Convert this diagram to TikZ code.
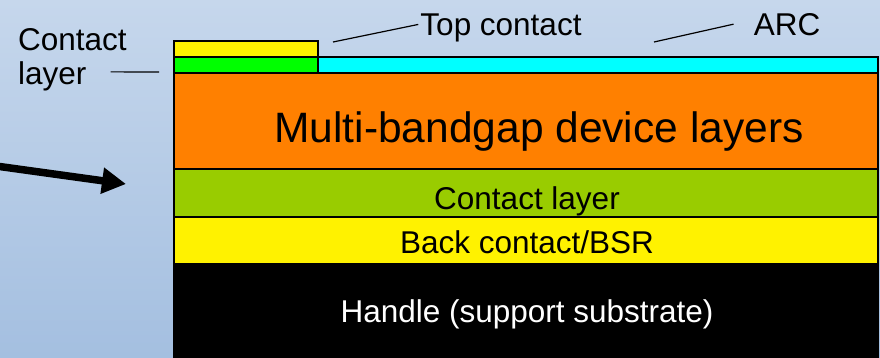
\documentclass[tikz,border=0pt]{standalone}
\usepackage{fontspec}
\setmainfont{Liberation Sans}
\usetikzlibrary{arrows.meta}

\definecolor{bgtop}{RGB}{198,215,236}
\definecolor{bgbot}{RGB}{164,191,224}
\definecolor{arccyan}{RGB}{0,255,255}
\definecolor{contgreen}{RGB}{0,255,0}
\definecolor{devorange}{RGB}{255,128,0}
\definecolor{layergreen}{RGB}{153,204,0}

\tikzset{
    layer/.style={draw=black, line width=1.4pt, inner sep=0pt, outer sep=0pt, anchor=north west},
    lbl/.style={font=\fontsize{31.5}{33}\selectfont, inner sep=0pt, anchor=base},
    leader/.style={line width=1.2pt}
}

\begin{document}
\begin{tikzpicture}[x=1pt,y=-1pt]
                    \useasboundingbox (0,0) rectangle (880,357);
                    \shade[top color=bgtop, bottom color=bgbot] (0,0) rectangle (880,357);

                    % the stack
                    \node[layer, fill=black, minimum width=704pt, minimum height=100pt] (handle) at (174,264) {};
                    \node[layer, fill=yellow, minimum width=704pt, minimum height=47pt] (back) at (174,217) {};
                    \node[layer, fill=layergreen, minimum width=704pt, minimum height=48pt] (clayer) at (174,169) {};
                    \node[layer, fill=devorange, minimum width=704pt, minimum height=96pt] (dev) at (174,73) {};
                    \node[layer, fill=arccyan, minimum width=560pt, minimum height=16pt] (arc) at (318,57) {};
                    \node[layer, fill=contgreen, minimum width=144pt, minimum height=16pt] (cont) at (174,57) {};
                    \node[layer, fill=yellow, minimum width=144pt, minimum height=16pt] (topc) at (174,41) {};

                    \node[lbl, font=\fontsize{42.5}{44}\selectfont] (devtxt) at (539,142) {Multi-bandgap device layers};
                    \node[lbl] (clayertxt) at (527,209) {Contact layer};
                    \node[lbl] (backtxt) at (527,253) {Back contact/BSR};
                    \node[lbl, text=white] (handletxt) at (527,322) {Handle (support substrate)};

                    % labels above and left
                    \node[lbl] (toplbl) at (501,35) {Top contact};
                    \node[lbl] (arclbl) at (787,35) {ARC};
                    \node[lbl, anchor=base west] (contlbla) at (18,50) {Contact};
                    \node[lbl, anchor=base west] (contlblb) at (18,84) {layer};

                    \coordinate (topend) at (333,42);
                    \coordinate (arcend) at (654,42);
                    \coordinate (contend) at (159,72);
                    \draw[leader] (topend) -- ([shift={(-2,-3)}]toplbl.west);
                    \draw[leader] (arcend) -- ([shift={(-20,0)}]arclbl.west);
                    \draw[leader] ([shift={(24,-4)}]contlblb.east) -- (contend);

                    % big arrow
                    \coordinate (arrstart) at (-4,166);
                    \coordinate (arrtip) at (126,184);
                    \draw[line width=7.5pt, -{Triangle[length=24pt 0 0,width=25pt 0 0]}] (arrstart) -- (arrtip);
                \end{tikzpicture}
\end{document}
